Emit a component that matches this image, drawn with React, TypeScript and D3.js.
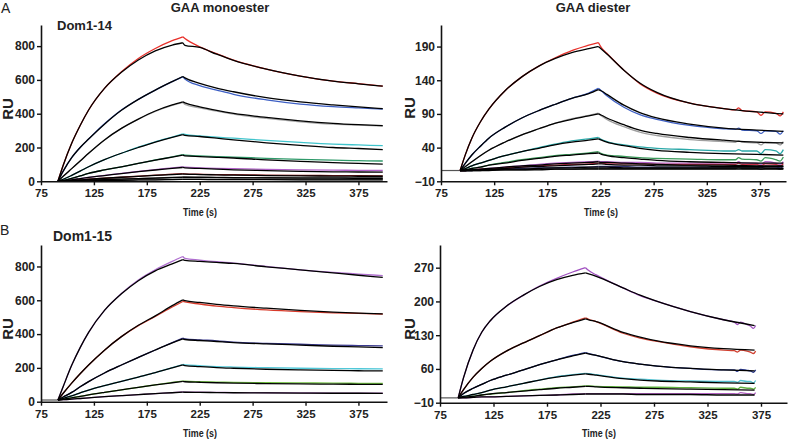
import React, { useEffect, useRef } from 'react';
import * as d3 from 'd3';

const xTicks = [75, 125, 175, 225, 275, 325, 375];
const monoTicks = [0, 200, 400, 600, 800];
const di14Ticks = [-10, 40, 90, 140, 190];
const di15Ticks = [-10, 60, 130, 200, 270];

// Dom1-14, GAA monoester
const tlOnT = [91, 96, 104, 112, 120, 135, 151, 167, 183, 199, 209];
const tlOffT = [209, 211, 225, 241, 257, 288, 320, 351, 375, 398];
const tlColors = ['#e8302a', '#3d5fc4', '#a8a8a8', '#40c4cc', '#2f9a6a', '#b060c8', '#8b1c1c', '#333333', '#666666'];
const tlDataOn = [
  [0, 95, 225, 330, 422, 550, 648, 727, 786, 832, 855],
  [0, 60, 140, 200, 250, 340, 422, 485, 540, 590, 618],
  [0, 30, 75, 120, 166, 245, 313, 368, 414, 450, 466],
  [0, 12, 35, 60, 86, 128, 166, 202, 234, 262, 280],
  [0, 6, 18, 32, 47, 67, 86, 106, 126, 145, 158],
  [0, 3, 9, 16, 23, 35, 47, 58, 69, 80, 86],
  [0, 2, 5, 8, 12, 18, 24, 30, 36, 42, 45],
  [0, 1, 3, 5, 7, 10, 13, 16, 19, 23, 25],
  [0, 0, 1, 2, 3, 5, 6, 8, 9, 11, 12],
];
const tlDataOff = [
  [855, 845, 796, 755, 717, 664, 623, 593, 578, 563],
  [618, 605, 566, 540, 515, 482, 457, 442, 434, 427],
  [466, 455, 435, 415, 397, 372, 352, 338, 332, 326],
  [280, 277, 268, 261, 255, 242, 230, 220, 215, 211],
  [158, 155, 150, 146, 143, 136, 130, 125, 122, 120],
  [86, 84, 80, 77, 75, 71, 68, 66, 65, 64],
  [45, 44, 42, 40, 39, 37, 35, 34, 33, 32],
  [25, 25, 24, 23, 22, 21, 20, 20, 19, 19],
  [12, 12, 12, 11, 11, 11, 10, 10, 10, 10],
];
const tlFitOn = [
  [0, 95, 225, 330, 422, 550, 645, 718, 772, 806, 820],
  [0, 60, 140, 200, 250, 338, 420, 485, 540, 590, 620],
  [0, 30, 75, 120, 166, 245, 313, 368, 416, 452, 470],
  [0, 12, 35, 60, 86, 128, 166, 200, 232, 260, 276],
  [0, 6, 18, 32, 47, 67, 86, 106, 125, 143, 155],
  [0, 3, 9, 16, 23, 34, 46, 57, 67, 76, 82],
  [0, 2, 5, 8, 12, 18, 24, 29, 35, 40, 43],
  [0, 1, 3, 5, 7, 10, 13, 16, 19, 22, 24],
  [0, 0, 1, 2, 3, 5, 6, 8, 9, 10, 11],
];
const tlFitOff = [
  [820, 805, 792, 752, 716, 664, 623, 593, 577, 563],
  [620, 612, 580, 552, 530, 495, 470, 452, 440, 430],
  [470, 464, 441, 420, 402, 378, 358, 343, 335, 329],
  [276, 272, 265, 255, 245, 228, 213, 200, 194, 188],
  [155, 151, 146, 142, 138, 127, 118, 110, 106, 102],
  [82, 80, 76, 72, 68, 63, 59, 56, 55, 54],
  [43, 42, 40, 38, 36, 34, 32, 31, 30, 30],
  [24, 24, 23, 22, 21, 20, 19, 19, 18, 18],
  [11, 11, 11, 10, 10, 10, 9, 9, 9, 9],
];

// Dom1-14, GAA diester
const trPre = [[75, 93], [6, 6]];
const trOnT = [93, 98, 104, 112, 120, 135, 151, 167, 182, 198, 214, 223];
const trOffT = [223, 226, 231, 247, 262, 278, 309, 341, 372, 397];
const trOffDataT = [223, 226, 231, 247, 262, 278, 309, 341, 352, 355, 358, 372, 376, 380, 390, 394, 397];
const trColors = ['#e8302a', '#3d5fc4', '#a0a0a0', '#2aa8a8', '#3a9a5a', '#b060c8', '#c83048', '#303070', '#222222'];
const trDataOn = [
  [6, 30, 54, 78, 97, 124, 145, 161, 173, 184, 192, 196],
  [6, 17, 29, 42, 54, 70, 84, 95, 104, 113, 121, 128],
  [6, 12, 19, 28, 36, 48, 59, 68, 76, 83, 88, 91],
  [6, 9, 13, 17, 21, 28, 34, 40, 45, 50, 53, 55],
  [6, 7, 9, 11, 14, 18, 22, 25, 28, 30, 32, 34],
  [6, 6, 7, 8, 9, 11, 13, 15, 17, 18, 19, 20],
  [6, 6, 7, 8, 8, 10, 11, 13, 14, 15, 16, 17],
  [6, 6, 6, 7, 7, 8, 9, 10, 10, 11, 11, 12],
  [6, 6, 6, 6, 7, 7, 7, 8, 8, 8, 9, 9],
];
const trDataOff = [
  [196, 188, 180, 155, 135, 121, 106, 98, 96, 99, 95, 93, 88, 93, 91, 87, 93],
  [128, 124, 117, 100, 89, 82, 73, 68, 67, 69, 66, 65, 61, 65, 64, 60, 65],
  [91, 87, 82, 71, 63, 58, 52, 49, 48, 50, 48, 47, 44, 48, 47, 44, 49],
  [55, 52, 49, 44, 41, 39, 37, 35, 35, 37, 35, 35, 31, 37, 35, 31, 37],
  [34, 31, 29, 27, 25, 24, 23, 22, 22, 25, 23, 22, 20, 25, 22, 20, 26],
  [20, 19, 19, 18, 18, 17, 17, 17, 17, 19, 17, 17, 15, 19, 17, 15, 19],
  [17, 17, 16, 16, 16, 15, 15, 15, 15, 17, 15, 15, 13, 16, 15, 13, 16],
  [12, 12, 12, 12, 11, 11, 11, 11, 11, 12, 11, 11, 10, 12, 11, 10, 12],
  [9, 9, 9, 9, 9, 9, 9, 9, 9, 10, 9, 9, 8, 9, 9, 8, 9],
];
const trFitOn = [
  [6, 30, 54, 78, 97, 124, 145, 161, 172, 181, 187, 190],
  [6, 17, 29, 42, 54, 70, 84, 95, 104, 113, 120, 126],
  [6, 12, 19, 28, 36, 48, 59, 68, 76, 82, 87, 90],
  [6, 9, 13, 17, 21, 28, 34, 39, 44, 48, 51, 53],
  [6, 7, 9, 11, 14, 17, 21, 24, 27, 29, 31, 32],
  [6, 6, 7, 8, 9, 11, 13, 14, 16, 17, 18, 19],
  [6, 6, 7, 7, 8, 9, 11, 12, 13, 14, 15, 16],
  [6, 6, 6, 7, 7, 8, 8, 9, 10, 10, 11, 11],
  [6, 6, 6, 6, 6, 7, 7, 7, 8, 8, 8, 8],
];
const trFitOff = [
  [190, 186, 179, 155, 136, 122, 106, 98, 93, 90],
  [126, 124, 119, 103, 92, 84, 75, 69, 66, 64],
  [90, 88, 84, 74, 66, 61, 55, 51, 48, 47],
  [53, 51, 48, 43, 39, 36, 33, 31, 30, 29],
  [32, 30, 28, 25, 23, 21, 19, 18, 17, 17],
  [19, 18, 18, 17, 16, 15, 14, 14, 13, 13],
  [16, 16, 15, 14, 14, 13, 13, 12, 12, 12],
  [11, 11, 11, 10, 10, 10, 10, 10, 10, 9],
  [8, 8, 8, 8, 8, 8, 8, 8, 8, 8],
];

// Dom1-15, GAA monoester
const blPre = [[75, 91], [10, 10]];
const blOnT = [91, 96, 104, 112, 120, 135, 151, 167, 183, 199, 209];
const blOffT = [209, 211, 225, 241, 257, 288, 320, 351, 375, 398];
const blColors = ['#b070d0', '#d83a2a', '#3a3a90', '#50c8d8', '#70c040', '#a060b0'];
const blDataOn = [
  [10, 90, 215, 320, 410, 540, 640, 720, 780, 830, 859],
  [10, 50, 110, 165, 217, 305, 385, 450, 504, 560, 593],
  [10, 28, 55, 88, 119, 170, 217, 262, 306, 350, 376],
  [10, 20, 35, 52, 69, 95, 120, 146, 172, 202, 220],
  [10, 14, 22, 31, 40, 55, 70, 85, 100, 114, 122],
  [10, 12, 15, 19, 23, 30, 36, 42, 48, 54, 58],
];
const blDataOff = [
  [859, 848, 838, 828, 820, 800, 780, 765, 755, 746],
  [593, 590, 578, 566, 557, 543, 533, 526, 522, 518],
  [376, 372, 366, 360, 352, 345, 340, 335, 332, 330],
  [220, 218, 213, 208, 205, 201, 198, 196, 195, 194],
  [122, 121, 118, 116, 114, 112, 111, 110, 109, 109],
  [58, 57, 56, 55, 54, 53, 52, 51, 51, 50],
];
const blFitOn = [
  [10, 90, 215, 320, 410, 540, 638, 716, 774, 815, 840],
  [10, 50, 110, 165, 217, 305, 385, 452, 508, 568, 602],
  [10, 28, 55, 88, 119, 170, 217, 262, 306, 348, 372],
  [10, 20, 35, 52, 69, 95, 120, 146, 172, 200, 218],
  [10, 14, 22, 31, 40, 55, 70, 85, 99, 112, 120],
  [10, 12, 15, 19, 23, 30, 36, 42, 48, 53, 57],
];
const blFitOff = [
  [840, 836, 830, 824, 818, 798, 780, 762, 748, 735],
  [602, 598, 587, 576, 567, 553, 540, 530, 524, 520],
  [372, 368, 362, 356, 350, 342, 335, 328, 324, 320],
  [218, 214, 208, 202, 198, 192, 188, 185, 183, 182],
  [120, 118, 115, 112, 110, 107, 105, 104, 103, 103],
  [57, 56, 55, 54, 53, 52, 51, 50, 50, 49],
];

// Dom1-15, GAA diester
const brPre = [[75, 92], [0, 0]];
const brOnT = [92, 97, 106, 114, 122, 137, 153, 168, 184, 199, 211];
const brOffT = [211, 214, 221, 246, 262, 278, 309, 340, 369];
const brOffDataT = [211, 214, 221, 246, 262, 278, 309, 340, 350, 353, 356, 362, 365, 368, 370];
const brColors = ['#a050c0', '#d04030', '#2a3a90', '#50c0d0', '#60b040', '#b060c0'];
const brDataOn = [
  [0, 42, 100, 136, 160, 190, 213, 232, 248, 261, 270],
  [0, 17, 43, 61, 76, 97, 114, 129, 145, 157, 166],
  [0, 9, 20, 28, 36, 47, 58, 69, 79, 88, 94],
  [0, 3, 7, 11, 16, 23, 30, 37, 44, 48, 51],
  [0, 1, 3, 6, 8, 11, 15, 18, 21, 23, 25],
  [0, 0, 1, 2, 2, 3, 4, 5, 6, 8, 9],
];
const brDataOff = [
  [270, 264, 255, 228, 212, 200, 179, 162, 157, 152, 157, 152, 149, 144, 150],
  [166, 163, 158, 134, 124, 117, 106, 99, 98, 95, 99, 97, 95, 92, 97],
  [94, 92, 88, 75, 70, 66, 61, 58, 58, 55, 59, 57, 56, 53, 58],
  [51, 50, 48, 41, 39, 37, 35, 34, 34, 32, 36, 34, 34, 31, 36],
  [25, 25, 24, 23, 22, 22, 21, 20, 20, 18, 22, 20, 20, 18, 22],
  [9, 9, 9, 9, 9, 9, 9, 9, 9, 8, 11, 9, 9, 7, 11],
];
const brFitOn = [
  [0, 42, 100, 136, 160, 190, 213, 231, 245, 254, 259],
  [0, 17, 43, 61, 76, 97, 114, 129, 145, 156, 164],
  [0, 9, 20, 28, 36, 47, 58, 69, 79, 87, 93],
  [0, 3, 7, 11, 16, 23, 30, 37, 43, 47, 50],
  [0, 1, 3, 6, 8, 11, 14, 17, 20, 22, 24],
  [0, 0, 1, 2, 2, 3, 4, 5, 6, 7, 8],
];
const brFitOff = [
  [259, 257, 252, 228, 213, 200, 179, 162, 150],
  [164, 162, 158, 136, 126, 118, 108, 102, 99],
  [93, 91, 88, 75, 70, 66, 61, 58, 56],
  [50, 49, 47, 40, 37, 35, 33, 31, 30],
  [24, 24, 23, 21, 20, 19, 18, 17, 16],
  [8, 8, 8, 8, 7, 7, 7, 6, 6],
];

const FONT = '"Liberation Sans", Arial, sans-serif';

function Panel(p: any) {
  const ref = useRef<SVGGElement>(null);

  useEffect(() => {
    const g = d3.select(ref.current);
    g.selectAll('*').remove();

    const x = d3.scaleLinear().domain([75, p.xMax]).range([p.left, p.right]);
    const y = d3.scaleLinear().domain(p.yDomain).range([p.bottom, p.top]);
    const line = d3
      .line<number[]>()
      .x((d) => x(d[0]))
      .y((d) => y(d[1]))
      .curve(d3.curveMonotoneX);

    const plot = g.append('g');
    const draw = (ts: number[], vs: number[], color: string, w: number) =>
      plot
        .append('path')
        .attr('d', line(ts.map((t, i) => [t, vs[i]])))
        .attr('fill', 'none')
        .attr('stroke', color)
        .attr('stroke-width', w)
        .attr('stroke-linejoin', 'round');

    if (p.pre) draw(p.pre[0], p.pre[1], '#555', 1.2);
    p.dataOn.forEach((v: number[], i: number) => draw(p.onT, v, p.colors[i], 1.3));
    p.dataOff.forEach((v: number[], i: number) => draw(p.offDataT || p.offT, v, p.colors[i], 1.3));
    p.fitOn.forEach((v: number[]) => draw(p.onT, v, '#000', 1.3));
    p.fitOff.forEach((v: number[]) => draw(p.offT, v, '#000', 1.3));

    // axes
    const xa = g
      .append('g')
      .attr('transform', `translate(0,${p.bottom})`)
      .call(d3.axisBottom(x).tickValues(xTicks).tickSize(4).tickPadding(4).tickSizeOuter(0));
    const ya = g
      .append('g')
      .attr('transform', `translate(${p.left},0)`)
      .call(d3.axisLeft(y).tickValues(p.yTicks).tickSize(4).tickPadding(2).tickSizeOuter(0));

    xa.attr('font-size', 11.5);
    ya.attr('font-size', 12);
    [xa, ya].forEach((a) => {
      a.attr('font-family', FONT).attr('font-weight', 'bold');
      a.select('.domain').attr('stroke', '#111').attr('stroke-width', 1.6);
      a.selectAll('.tick line').attr('stroke', '#111').attr('stroke-width', 1.4);
      a.selectAll('.tick text').attr('fill', '#222');
    });
  }, []);

  return <g ref={ref} />;
}

export default function App() {
  const txt = { fontFamily: FONT, fontWeight: 'bold' as const, fill: '#222' };
  return (
    <svg width={790} height={442} style={{ position: 'absolute', left: 0, top: 0, background: '#fff' }}>
      <text x={1} y={13} fontFamily={FONT} fontSize={14} fill="#222">A</text>
      <text x={0} y={235} fontFamily={FONT} fontSize={14} fill="#222">B</text>
      <text x={220} y={12} textAnchor="middle" fontSize={13} {...txt}>GAA monoester</text>
      <text x={593} y={12} textAnchor="middle" fontSize={13} {...txt}>GAA diester</text>
      <text x={57} y={30} fontSize={13} {...txt}>Dom1-14</text>
      <text x={53} y={241} fontSize={14} {...txt}>Dom1-15</text>

      <text transform="translate(13,109) rotate(-90)" textAnchor="middle" fontSize={15} {...txt}>RU</text>
      <text transform="translate(415,108) rotate(-90)" textAnchor="middle" fontSize={15} {...txt}>RU</text>
      <text transform="translate(13,329) rotate(-90)" textAnchor="middle" fontSize={15} {...txt}>RU</text>
      <text transform="translate(415,329) rotate(-90)" textAnchor="middle" fontSize={15} {...txt}>RU</text>

      <text x={200} y={216} textAnchor="middle" fontSize={11} textLength={34} lengthAdjust="spacingAndGlyphs" {...txt}>Time (s)</text>
      <text x={601} y={216} textAnchor="middle" fontSize={11} textLength={34} lengthAdjust="spacingAndGlyphs" {...txt}>Time (s)</text>
      <text x={200} y={437} textAnchor="middle" fontSize={11} textLength={34} lengthAdjust="spacingAndGlyphs" {...txt}>Time (s)</text>
      <text x={599} y={437} textAnchor="middle" fontSize={11} textLength={34} lengthAdjust="spacingAndGlyphs" {...txt}>Time (s)</text>

      <Panel left={41} right={387} xMax={402} top={25} bottom={181.3} yDomain={[0, 925]} yTicks={monoTicks}
        onT={tlOnT} offT={tlOffT} colors={tlColors} dataOn={tlDataOn} dataOff={tlDataOff} fitOn={tlFitOn} fitOff={tlFitOff} />
      <Panel left={441} right={786} xMax={399.5} top={25} bottom={181.3} yDomain={[-10, 222]} yTicks={di14Ticks} pre={trPre}
        onT={trOnT} offT={trOffT} offDataT={trOffDataT} colors={trColors} dataOn={trDataOn} dataOff={trDataOff} fitOn={trFitOn} fitOff={trFitOff} />
      <Panel left={41} right={387} xMax={402} top={245} bottom={401.7} yDomain={[0, 927]} yTicks={monoTicks} pre={blPre}
        onT={blOnT} offT={blOffT} colors={blColors} dataOn={blDataOn} dataOff={blDataOff} fitOn={blFitOn} fitOff={blFitOff} />
      <Panel left={440} right={787} xMax={399.3} top={245} bottom={402.7} yDomain={[-10, 317]} yTicks={di15Ticks} pre={brPre}
        onT={brOnT} offT={brOffT} offDataT={brOffDataT} colors={brColors} dataOn={brDataOn} dataOff={brDataOff} fitOn={brFitOn} fitOff={brFitOff} />
    </svg>
  );
}
